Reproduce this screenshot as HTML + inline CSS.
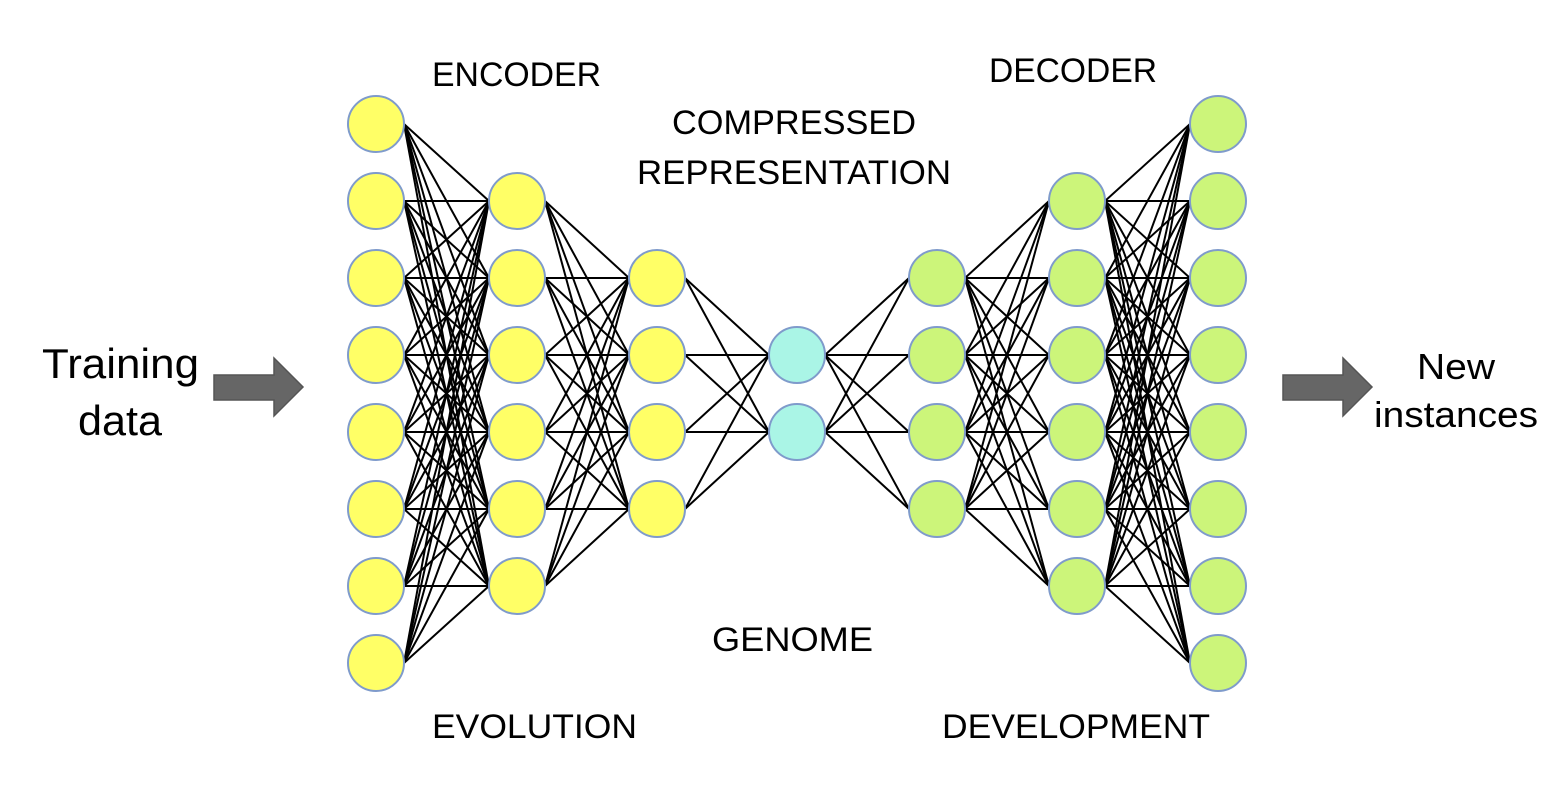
<!DOCTYPE html>
<html><head><meta charset="utf-8"><style>html,body{margin:0;padding:0;background:#fff;}svg{display:block}</style></head>
<body>
<svg id="s" width="1564" height="794" xmlns="http://www.w3.org/2000/svg" font-family="Liberation Sans, sans-serif" fill="#000">
<g id="lines" stroke="#000" stroke-width="2"></g>
<g id="nodes"></g>
<polygon points="214,375 274,375 274,358 303,387 274,416 274,400 214,400" fill="#666" stroke="#555" stroke-width="1.5"/>
<polygon points="1283,375 1343,375 1343,358 1372,387 1343,416 1343,400 1283,400" fill="#666" stroke="#555" stroke-width="1.5"/>
<g font-size="34">
<text x="432" y="86" textLength="169" lengthAdjust="spacingAndGlyphs">ENCODER</text>
<text x="989" y="82" textLength="168" lengthAdjust="spacingAndGlyphs">DECODER</text>
<text x="672" y="134" textLength="244" lengthAdjust="spacingAndGlyphs">COMPRESSED</text>
<text x="637" y="184" textLength="314" lengthAdjust="spacingAndGlyphs">REPRESENTATION</text>
<text x="712" y="651" textLength="161" lengthAdjust="spacingAndGlyphs">GENOME</text>
<text x="432" y="738" textLength="205" lengthAdjust="spacingAndGlyphs">EVOLUTION</text>
<text x="942" y="738" textLength="268" lengthAdjust="spacingAndGlyphs">DEVELOPMENT</text>
</g>
<g font-size="42">
<text x="42" y="378" textLength="157" lengthAdjust="spacingAndGlyphs">Training</text>
<text x="78" y="435" textLength="84" lengthAdjust="spacingAndGlyphs">data</text>
</g>
<g font-size="36">
<text x="1417" y="379" textLength="78" lengthAdjust="spacingAndGlyphs">New</text>
<text x="1374" y="427" textLength="164" lengthAdjust="spacingAndGlyphs">instances</text>
</g>
</svg>
<script>
var NS="http://www.w3.org/2000/svg",r=28;
var layers=[[376,8,"#ffff66"],[517,6,"#ffff66"],[657,4,"#ffff66"],[797,2,"#aaf5e6"],[937,4,"#ccf57a"],[1077,6,"#ccf57a"],[1218,8,"#ccf57a"]];
var pts=layers.map(function(l){var a=[];var y0=393.5-(l[1]-1)*77/2;for(var i=0;i<l[1];i++)a.push([l[0],y0+i*77]);return a;});
var lg=document.getElementById("lines"),ng=document.getElementById("nodes");
for(var k=0;k<pts.length-1;k++)pts[k].forEach(function(p){pts[k+1].forEach(function(q){var e=document.createElementNS(NS,"line");e.setAttribute("x1",p[0]+r);e.setAttribute("y1",p[1]);e.setAttribute("x2",q[0]-r);e.setAttribute("y2",q[1]);lg.appendChild(e);});});
pts.forEach(function(a,k){a.forEach(function(p){var c=document.createElementNS(NS,"circle");c.setAttribute("cx",p[0]);c.setAttribute("cy",p[1]);c.setAttribute("r",r);c.setAttribute("fill",layers[k][2]);c.setAttribute("stroke","#7f9bcb");c.setAttribute("stroke-width","2");ng.appendChild(c);});});
</script>
</body></html>
